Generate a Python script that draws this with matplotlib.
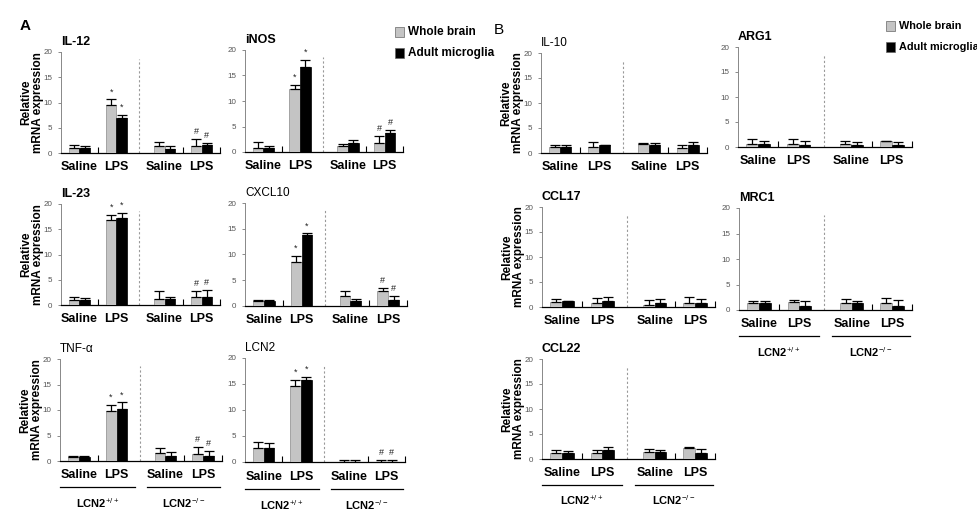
import matplotlib
matplotlib.use("Agg")
import matplotlib.pyplot as plt
import matplotlib.transforms as mtransforms
import numpy as np

plt.rcParams['font.family'] = ['Liberation Sans', 'DejaVu Sans']
plt.rcParams['mathtext.fontset'] = 'custom'
plt.rcParams['mathtext.rm'] = 'Liberation Sans'
plt.rcParams['mathtext.bf'] = 'Liberation Sans:bold'

# ---------------- data ----------------
categories = ["Saline", "LPS", "Saline", "LPS"]
genotypes = [r"LCN2$^{+/+}$", r"LCN2$^{-/-}$"]
legend_labels = ["Whole brain", "Adult microglia"]

il12_wb = [1.0, 9.5, 1.45, 1.45];   il12_wb_err = [0.6, 1.1, 0.8, 1.3]
il12_mg = [1.0, 6.9, 0.85, 1.5];    il12_mg_err = [0.4, 0.7, 0.45, 0.4]
il12_marks_wb = ["", "*", "", "#"]; il12_marks_mg = ["", "*", "", "#"]

inos_wb = [0.7, 12.3, 1.1, 1.85];   inos_wb_err = [1.3, 0.8, 0.4, 1.2]
inos_mg = [0.7, 16.7, 1.85, 3.8];   inos_mg_err = [0.4, 1.4, 0.55, 0.5]
inos_marks_wb = ["", "*", "", "#"]; inos_marks_mg = ["", "*", "", "#"]

il23_wb = [1.0, 16.9, 1.1, 1.5];    il23_wb_err = [0.5, 1.0, 1.6, 1.2]
il23_mg = [1.0, 17.2, 1.2, 1.6];    il23_mg_err = [0.3, 1.1, 0.45, 1.3]
il23_marks_wb = ["", "*", "", "#"]; il23_marks_mg = ["", "*", "", "#"]

cxcl10_wb = [0.9, 8.6, 1.9, 2.9];   cxcl10_wb_err = [0.35, 1.1, 1.0, 0.5]
cxcl10_mg = [1.0, 13.8, 1.0, 1.1];  cxcl10_mg_err = [0.1, 0.3, 0.45, 0.8]
cxcl10_marks_wb = ["", "*", "", "#"]; cxcl10_marks_mg = ["", "*", "", "#"]

tnf_wb = [0.7, 9.9, 1.5, 1.3];      tnf_wb_err = [0.35, 1.1, 1.0, 1.4]
tnf_mg = [0.7, 10.2, 1.0, 1.0];     tnf_mg_err = [0.35, 1.3, 0.7, 0.9]
tnf_marks_wb = ["", "*", "", "#"];  tnf_marks_mg = ["", "*", "", "#"]

lcn2_wb = [2.6, 14.7, 0.05, 0.05];  lcn2_wb_err = [1.25, 1.1, 0.25, 0.25]
lcn2_mg = [2.6, 15.8, 0.05, 0.05];  lcn2_mg_err = [1.05, 0.5, 0.25, 0.25]
lcn2_marks_wb = ["", "*", "", "#"]; lcn2_marks_mg = ["", "*", "", "#"]

il10_wb = [1.2, 1.2, 1.75, 1.1];    il10_wb_err = [0.35, 1.0, 0.35, 0.5]
il10_mg = [1.2, 1.55, 1.55, 1.6];   il10_mg_err = [0.5, 0.05, 0.45, 0.6]

arg1_wb = [0.67, 0.6, 0.6, 1.13];   arg1_wb_err = [1.0, 1.07, 0.6, 0.07]
arg1_mg = [0.67, 0.47, 0.4, 0.4];   arg1_mg_err = [0.53, 0.73, 0.6, 0.6]

ccl17_wb = [1.1, 0.8, 0.5, 0.8];    ccl17_wb_err = [0.5, 1.0, 0.9, 1.2]
ccl17_mg = [1.25, 1.2, 0.8, 0.8];   ccl17_mg_err = [0.05, 0.8, 0.8, 0.8]

mrc1_wb = [1.3, 1.5, 1.3, 1.3];     mrc1_wb_err = [0.4, 0.4, 0.8, 1.0]
mrc1_mg = [1.3, 0.8, 1.3, 0.8];     mrc1_mg_err = [0.4, 0.9, 0.4, 1.2]

ccl22_wb = [1.13, 1.13, 1.33, 2.13]; ccl22_wb_err = [0.67, 0.67, 0.6, 0.34]
ccl22_mg = [1.13, 1.8, 1.33, 1.13];  ccl22_mg_err = [0.47, 0.7, 0.47, 0.8]

positions = [0.0, 1.0, 2.3, 3.3]

# ---------------- figure ----------------
W, H = 978, 519
fig = plt.figure(figsize=(W / 100, H / 100), dpi=100)

GRAY = "#c4c4c4"
BLACK = "#000000"
NARROW = ['Liberation Sans Narrow', 'Liberation Sans', 'DejaVu Sans']


def add_ax(x0, y0, x1, y1):
    ax = fig.add_axes([x0 / W, 1 - y1 / H, (x1 - x0) / W, (y1 - y0) / H])
    ax._wpx = x1 - x0
    return ax


def panel(ax, wb, wb_err, mg, mg_err, title, bold=True, marks=None,
          ylabel=False, genolabels=False):
    x = np.array(positions)
    bw = 0.29
    ax.bar(x - bw / 2, wb, bw, color=GRAY, edgecolor="#8a8a8a", linewidth=0.5,
           yerr=[np.zeros(4), wb_err], capsize=3.5,
           error_kw=dict(elinewidth=0.9, capthick=0.9, ecolor="black"), zorder=3)
    ax.bar(x + bw / 2, mg, bw, color=BLACK, edgecolor="black", linewidth=0.5,
           yerr=[np.zeros(4), mg_err], capsize=3.5,
           error_kw=dict(elinewidth=0.9, capthick=0.9, ecolor="black"), zorder=3)
    if marks is not None:
        mw, mm = marks
        for i in range(4):
            if mw[i]:
                ax.text(x[i] - bw / 2, wb[i] + wb_err[i] + 0.6, mw[i],
                        ha="center", va="bottom", fontsize=6.5, color="#222222")
            if mm[i]:
                ax.text(x[i] + bw / 2, mg[i] + mg_err[i] + 0.6, mm[i],
                        ha="center", va="bottom", fontsize=6.5, color="#222222")
    ax.set_xlim(-0.5, 3.8)
    ax.set_ylim(0, 20)
    ax.set_yticks([0, 5, 10, 15, 20])
    ax.tick_params(axis="y", labelsize=5.8, labelcolor="#555555", length=2.5,
                   width=0.6, color="#777777", pad=4)
    ax.set_xticks([0.5, 2.8, 3.8])
    ax.set_xticklabels([])
    ax.tick_params(axis="x", length=4, width=0.8, direction="in", color="black")
    for s in ("top", "right"):
        ax.spines[s].set_visible(False)
    ax.spines["left"].set_color("#888888")
    ax.spines["left"].set_linewidth(0.7)
    ax.spines["bottom"].set_linewidth(0.9)
    ax.axvline(1.62, ymin=0, ymax=0.93, color="#999999", linestyle=(0, (2, 2)),
               linewidth=0.8)
    trans = mtransforms.blended_transform_factory(ax.transData, ax.transAxes)
    for xi, lab in zip(positions, categories):
        ax.text(xi, -0.14, lab, transform=trans, ha="center", va="center",
                fontsize=9, fontweight="bold", family=NARROW)
    ax.text(0.0, 1.04, title, transform=ax.transAxes, ha="left", va="bottom",
            fontsize=9 if bold else 8.5,
            fontweight="bold" if bold else "normal", family=NARROW)
    if ylabel:
        ax.text(-29 / ax._wpx, 0.5, "Relative\nmRNA expression",
                transform=ax.transAxes, rotation=90, ha="center", va="center",
                fontsize=8.5, fontweight="bold", linespacing=1.0)
    if genolabels:
        for (a, b), lab in zip([(-0.5, 1.5), (1.82, 3.74)], genotypes):
            ax.plot([a, b], [-0.255, -0.255], transform=trans, color="black",
                    linewidth=0.9, clip_on=False)
            ax.text((a + b) / 2, -0.41, lab, transform=trans, ha="center",
                    va="center", fontsize=8, fontweight="bold", family=NARROW)


# Panel A
ax = add_ax(61, 52, 220, 153)
panel(ax, il12_wb, il12_wb_err, il12_mg, il12_mg_err, "IL-12",
      marks=(il12_marks_wb, il12_marks_mg), ylabel=True)
ax = add_ax(245, 50, 403, 152)
panel(ax, inos_wb, inos_wb_err, inos_mg, inos_mg_err, "iNOS",
      marks=(inos_marks_wb, inos_marks_mg))
ax = add_ax(61, 204, 220, 305)
panel(ax, il23_wb, il23_wb_err, il23_mg, il23_mg_err, "IL-23",
      marks=(il23_marks_wb, il23_marks_mg), ylabel=True)
ax = add_ax(245, 203, 407, 306)
panel(ax, cxcl10_wb, cxcl10_wb_err, cxcl10_mg, cxcl10_mg_err, "CXCL10",
      bold=False, marks=(cxcl10_marks_wb, cxcl10_marks_mg))
ax = add_ax(60, 359, 222, 461)
panel(ax, tnf_wb, tnf_wb_err, tnf_mg, tnf_mg_err, "TNF-α", bold=False,
      marks=(tnf_marks_wb, tnf_marks_mg), ylabel=True, genolabels=True)
ax = add_ax(245, 358, 405, 462)
panel(ax, lcn2_wb, lcn2_wb_err, lcn2_mg, lcn2_mg_err, "LCN2", bold=False,
      marks=(lcn2_marks_wb, lcn2_marks_mg), genolabels=True)

# Panel B
ax = add_ax(541, 53, 707, 153)
panel(ax, il10_wb, il10_wb_err, il10_mg, il10_mg_err, "IL-10", bold=False,
      ylabel=True)
ax = add_ax(738, 47, 912, 147)
panel(ax, arg1_wb, arg1_wb_err, arg1_mg, arg1_mg_err, "ARG1")
ax = add_ax(542, 207, 715, 307)
panel(ax, ccl17_wb, ccl17_wb_err, ccl17_mg, ccl17_mg_err, "CCL17", ylabel=True)
ax = add_ax(739, 208, 912, 310)
panel(ax, mrc1_wb, mrc1_wb_err, mrc1_mg, mrc1_mg_err, "MRC1", genolabels=True)
ax = add_ax(542, 359, 715, 459)
panel(ax, ccl22_wb, ccl22_wb_err, ccl22_mg, ccl22_mg_err, "CCL22",
      ylabel=True, genolabels=True)

# Panel letters
fig.text(20 / W, 1 - 26 / H, "A", fontsize=11, fontweight="bold", va="center",
         family=NARROW)
fig.text(494 / W, 1 - 30 / H, "B", fontsize=11, va="center", family=NARROW)


# Legends
def legend_at(x, y, fs=8.5):
    for i, (lab, col) in enumerate(zip(legend_labels, [GRAY, BLACK])):
        yy = y + i * 21
        fig.patches.append(plt.Rectangle((x / W, 1 - (yy + 4.5) / H), 9 / W, 9 / H,
                                         transform=fig.transFigure, facecolor=col,
                                         edgecolor="#666666", linewidth=0.5))
        fig.text((x + 13) / W, 1 - yy / H, lab, fontsize=fs, fontweight="bold",
                 va="center", ha="left", family=NARROW)


legend_at(395, 32)
legend_at(886, 26, fs=7.8)

fig.savefig("out.png", dpi=100)
